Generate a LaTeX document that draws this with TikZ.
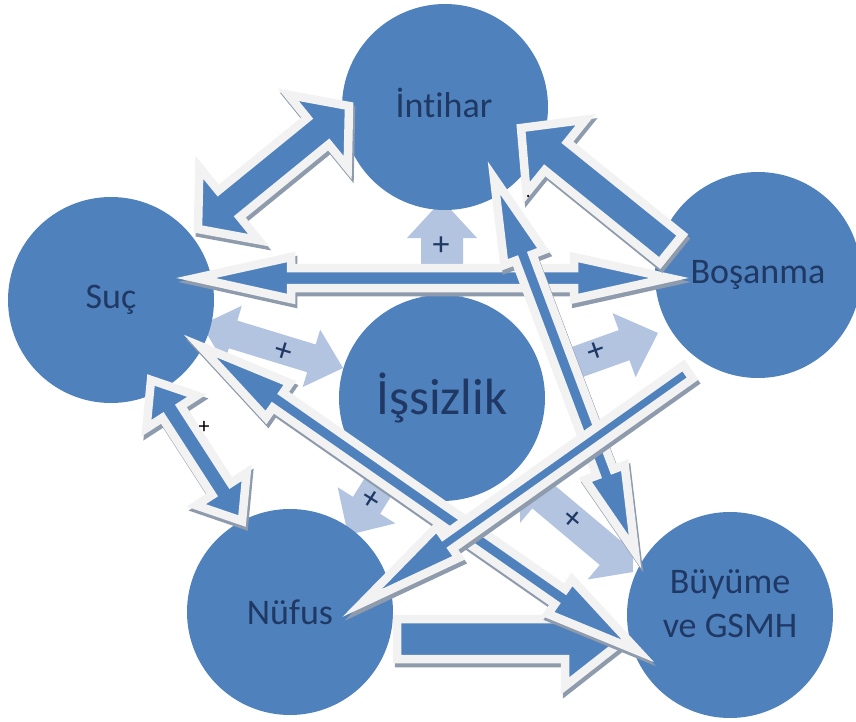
\documentclass[tikz,border=0pt]{standalone}
\usepackage{fontspec}
\setmainfont{Carlito}[Ligatures={NoCommon,NoContextual}]
\definecolor{cblue}{HTML}{4F81BD}
\definecolor{clight}{HTML}{B3C4E0}
\definecolor{coutl}{HTML}{F2F2F2}
\definecolor{cshadow}{HTML}{8E9BAC}
\definecolor{ctext}{HTML}{1F3864}
\tikzset{
  circ/.style={circle, fill=cblue, minimum size=206pt, inner sep=0pt, text=ctext,
    font=\fontsize{36}{44}\selectfont, align=center},
  bigcirc/.style={circ, font=\fontsize{51}{56}\selectfont},
  lbl/.style={text=ctext, font=\fontsize{36}{44}\selectfont, align=center, inner sep=0pt},
  darkbody/.style={fill=cblue, draw=coutl, line width=8.5pt, line join=miter, miter limit=12},
  darkshadow/.style={fill=cshadow, draw=cshadow, line width=8.5pt, line join=miter, miter limit=12},
  lightbody/.style={fill=clight},
  plusmark/.style={text=ctext, font=\fontsize{34}{34}\selectfont, inner sep=0pt},
  blackplus/.style={text=black, font=\fontsize{22}{22}\selectfont, inner sep=0pt},
}
% block arrow: #1 start, #2 end, #3 shaft half width, #4 head half width, #5 head length, #6 double (1) / single (0), #7 dark/light
\newcommand{\blockarrow}[7]{%
  \path (#1); \pgfgetlastxy{\BAax}{\BAay}%
  \path (#2); \pgfgetlastxy{\BAbx}{\BAby}%
  \pgfmathsetmacro{\BAang}{atan2(\BAby-\BAay,\BAbx-\BAax)}%
  \pgfmathsetmacro{\BAlen}{veclen(\BAbx-\BAax,\BAby-\BAay)}%
  \pgfmathsetmacro{\BAneck}{\BAlen-#5}%
  \def\BAw{#3}\def\BAh{#4}\def\BAL{#5}%
  \ifnum#6=1\relax
    \def\BAshape{(\BAL pt,\BAw pt) -- (\BAneck pt,\BAw pt) -- (\BAneck pt,\BAh pt) -- (\BAlen pt,0pt) -- (\BAneck pt,-\BAh pt) -- (\BAneck pt,-\BAw pt) -- (\BAL pt,-\BAw pt) -- (\BAL pt,-\BAh pt) -- (0pt,0pt) -- (\BAL pt,\BAh pt) -- cycle}%
  \else
    \def\BAshape{(0pt,\BAw pt) -- (\BAneck pt,\BAw pt) -- (\BAneck pt,\BAh pt) -- (\BAlen pt,0pt) -- (\BAneck pt,-\BAh pt) -- (\BAneck pt,-\BAw pt) -- (0pt,-\BAw pt) -- cycle}%
  \fi
  \csname BAdraw#7\endcsname
}
\newcommand{\BAdrawdark}{%
  \begin{scope}[shift={(2pt,-4pt)},shift={(\BAax,\BAay)},rotate=\BAang]
    \path[darkshadow] \BAshape;
  \end{scope}
  \begin{scope}[shift={(\BAax,\BAay)},rotate=\BAang]
    \path[darkbody] \BAshape;
  \end{scope}}
\newcommand{\BAdrawlight}{%
  \begin{scope}[shift={(\BAax,\BAay)},rotate=\BAang]
    \path[lightbody] \BAshape;
  \end{scope}}
\begin{document}
\begin{tikzpicture}[x=1pt,y=-1pt]
\useasboundingbox (0,0) rectangle (856,722);
% light arrow end points
\coordinate (l1a) at (442,312); \coordinate (l1b) at (442,200);
\coordinate (l2a) at (201.5,324.8); \coordinate (l2b) at (343,368);
\coordinate (l3a) at (566,366); \coordinate (l3b) at (658,333);
\coordinate (l4a) at (433,399); \coordinate (l4b) at (348,535);
\coordinate (l5a) at (519.6,476.8); \coordinate (l5b) at (633,572);
% light arrows (under the circles)
\blockarrow{l1a}{l1b}{21}{35}{38}{0}{light}
\blockarrow{l2a}{l2b}{14.5}{30}{33}{1}{light}
\blockarrow{l3a}{l3b}{16}{34}{36}{0}{light}
\blockarrow{l4a}{l4b}{16}{34}{35}{0}{light}
\blockarrow{l5a}{l5b}{16}{35}{30}{1}{light}
% circles
\node[circ] (intihar) at (445,107) {};
\node[lbl] (intiharlbl) at (444,103) {İntihar};
\node[circ] (suc) at (111,300) {Suç};
\node[circ] (bosanma) at (758,275) {Boşanma};
\node[bigcirc] (issizlik) at (442,398) {İşsizlik};
\node[circ] (nufus) at (290,612) {Nüfus};
\node[circ] (buyume) at (730,615) {};
\node[lbl] (buyumelbl) at (730,604) {Büyüme\\ve GSMH};
% dark arrow end points
\coordinate (a3a) at (196,278); \coordinate (a3b) at (669,278);
\coordinate (a4a) at (494,178); \coordinate (a4b) at (635,552);
\coordinate (a2a) at (671,249); \coordinate (a2b) at (521,128);
\coordinate (a8a) at (397,639); \coordinate (a8b) at (625,639);
\coordinate (a6a) at (200,346); \coordinate (a6b) at (638,651);
\coordinate (a5a) at (688,372); \coordinate (a5b) at (362,603);
\coordinate (a1a) at (198,229); \coordinate (a1b) at (349,106);
\coordinate (a7a) at (151,380); \coordinate (a7b) at (242,521);
% dark arrows
\blockarrow{a3a}{a3b}{10}{21}{95}{1}{dark}
\blockarrow{a4a}{a4b}{9}{21}{85}{1}{dark}
\blockarrow{a2a}{a2b}{18}{47}{45}{0}{dark}
\blockarrow{a8a}{a8b}{20}{47}{60}{0}{dark}
\blockarrow{a6a}{a6b}{9}{21}{95}{1}{dark}
\blockarrow{a5a}{a5b}{8}{19}{105}{0}{dark}
\blockarrow{a1a}{a1b}{17}{47}{40}{1}{dark}
\blockarrow{a7a}{a7b}{11}{30}{38}{1}{dark}
% plus signs
\node[plusmark] (p1) at (441,246) {+};
\node[plusmark, rotate=-17] (p2) at (283,352) {+};
\node[plusmark, rotate=19.5] (p3) at (596,352) {+};
\node[plusmark, rotate=-32] (p4) at (371,500) {+};
\node[plusmark, rotate=-40] (p5) at (572,520) {+};
\node[blackplus] (p6) at (204,427) {+};
\node[circle, fill=black, inner sep=0pt, minimum size=2.5pt] (dot) at (528,196) {};
\end{tikzpicture}
\end{document}
